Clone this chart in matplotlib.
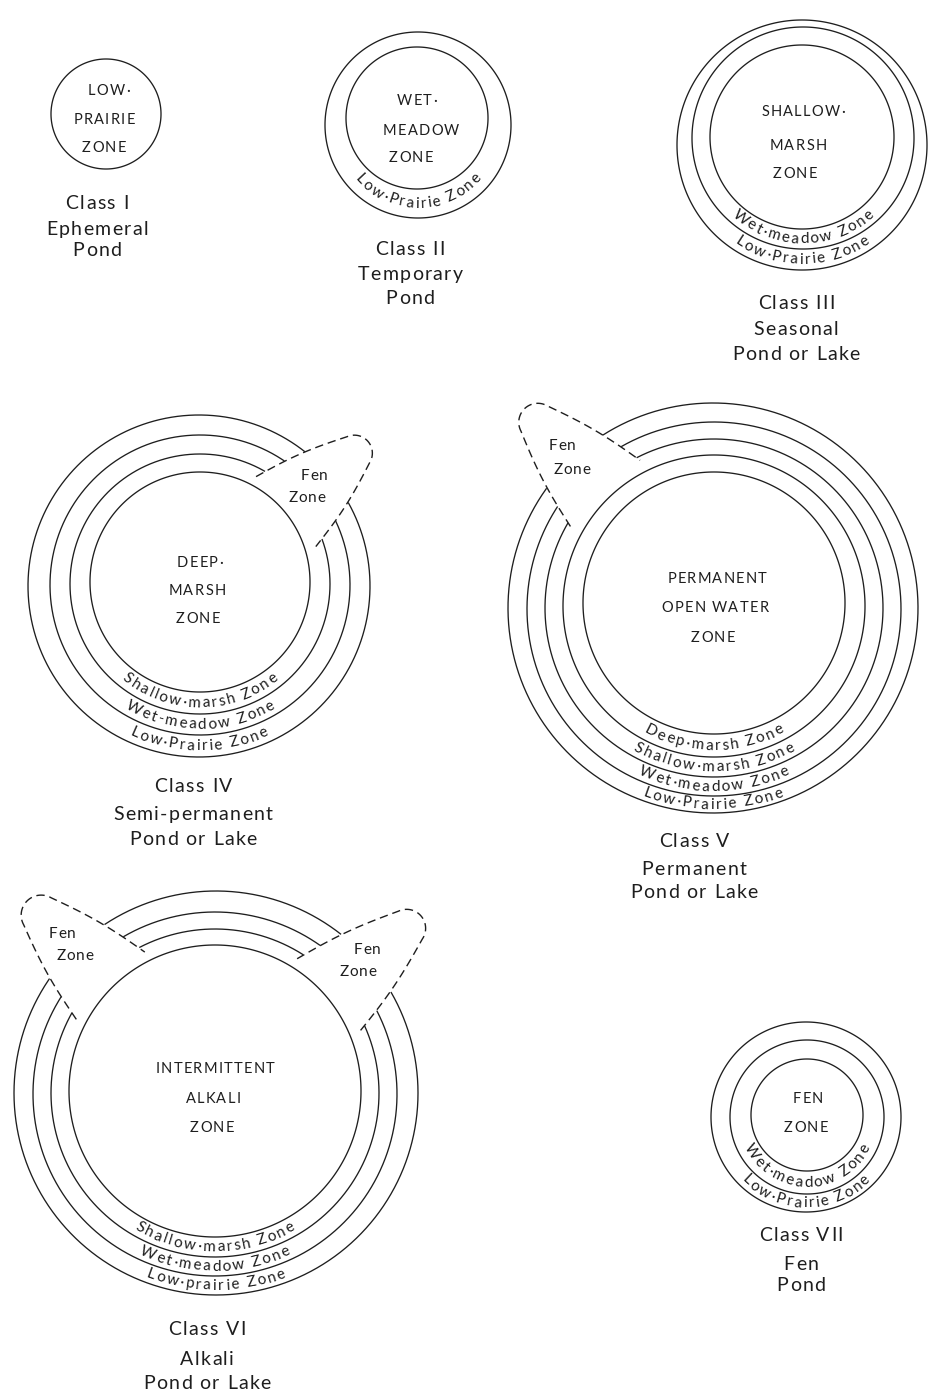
import numpy as np
import matplotlib
matplotlib.use("Agg")
import matplotlib.pyplot as plt
from matplotlib.path import Path
from matplotlib.textpath import TextToPath
from matplotlib.font_manager import FontProperties

W_PX, H_PX, DPI = 929, 1393, 100
FONT = "Lato"
INK = "#1e1e1e"

# ---------------- data ----------------
CLASS_NAMES = ["Class I", "Class II", "Class III", "Class IV", "Class V", "Class VI", "Class VII"]
CLASS_TYPES = [["Ephemeral", "Pond"], ["Temporary", "Pond"], ["Seasonal", "Pond or Lake"],
               ["Semi-permanent", "Pond or Lake"], ["Permanent", "Pond or Lake"],
               ["Alkali", "Pond or Lake"], ["Fen", "Pond"]]
CENTRAL_ZONES = [["LOW·", "PRAIRIE", "ZONE"], ["WET·", "MEADOW", "ZONE"],
                 ["SHALLOW·", "MARSH", "ZONE"], ["DEEP·", "MARSH", "ZONE"],
                 ["PERMANENT", "OPEN WATER", "ZONE"], ["INTERMITTENT", "ALKALI", "ZONE"],
                 ["FEN", "ZONE"]]
RING_ZONES = [[], ["Low·Prairie Zone"],
              ["Wet·meadow Zone", "Low·Prairie Zone"],
              ["Shallow·marsh Zone", "Wet-meadow Zone", "Low·Prairie Zone"],
              ["Deep·marsh Zone", "Shallow·marsh Zone", "Wet·meadow Zone", "Low·Prairie Zone"],
              ["Shallow·marsh Zone", "Wet·meadow Zone", "Low·prairie Zone"],
              ["Wet·meadow Zone", "Low·Prairie Zone"]]
FEN_LABEL = ["Fen", "Zone"]

# circles per class: (cx, cy, r), innermost first
CIRCLES = [
    [(106, 114, 55)],
    [(417, 118, 71), (418, 125, 93)],
    [(802, 137, 92), (803, 138, 111), (802, 145, 125)],
    [(200, 582, 110), (200, 584, 130), (200, 585, 150), (199, 586, 171)],
    [(714, 603, 131), (714, 606, 151), (714, 608, 169), (714, 609, 187), (713, 608, 205)],
    [(215, 1091, 146), (215, 1093, 164), (215, 1094, 182), (216, 1093, 202)],
    [(807, 1115, 56), (807, 1117, 77), (806, 1117, 95)],
]
POND_CENTERS = [(106, 114), (418, 122), (802, 140), (200, 585), (714, 608), (215, 1092), (807, 1116)]

# fen lobes: (class index, direction deg, base distance, length, half width, tip radius)
FEN_LOBES = [
    (3, 40.5, 113, 108, 46, 18),
    (4, 133.5, 158, 117, 48, 19),
    (5, 134.5, 149, 119, 48, 20),
    (5, 40.5, 149, 122, 48, 19),
]
FEN_TEXT_POS = [[(314, 475), (307, 497)], [(562, 445), (572, 469)],
                [(62, 933), (75, 955)], [(367, 949), (358, 971)]]

CENTRAL_X = [[109, 104, 104], [417, 421, 411], [803, 798, 795], [200, 197, 198],
             [717, 715, 713], [215, 213, 212], [808, 806]]
CENTRAL_Y = [[90, 119, 147], [100, 130, 157], [111, 145, 173], [562, 590, 618],
             [578, 607, 637], [1068, 1098, 1127], [1098, 1127]]
CAPTION_X = [97, 410, 796, 193, 694, 207, 801]
CAPTION_Y = [[202, 228, 249], [248, 273, 297], [302, 328, 353], [785, 813, 838],
             [840, 868, 891], [1328, 1358, 1382], [1234, 1263, 1284]]

# ---------------- figure ----------------
fig = plt.figure(figsize=(W_PX / DPI, H_PX / DPI), dpi=DPI)
ax = fig.add_axes([0, 0, 1, 1])
ax.set_xlim(0, W_PX)
ax.set_ylim(H_PX, 0)
ax.axis("off")

t2p = TextToPath()
_cache = {}


def adv(ch, fs):
    key = (ch, fs)
    if key not in _cache:
        fp = FontProperties(family=FONT, size=fs)
        a = t2p.get_text_width_height_descent("x" + ch + "x", fp, ismath=False)[0]
        b = t2p.get_text_width_height_descent("xx", fp, ismath=False)[0]
        _cache[key] = (a - b) * DPI / 72.0
    return _cache[key]


def spaced_text(x, y, s, fs, track):
    ws = [adv(c, fs) for c in s]
    total = sum(ws) + track * (len(s) - 1)
    pos = x - total / 2
    ybase = y + 0.36 * fs * DPI / 72.0
    for c, w in zip(s, ws):
        ax.text(pos + w / 2, ybase, c, fontsize=fs, family=FONT, color=INK,
                ha="center", va="baseline")
        pos += w + track


def arc_text(cx, cy, rb, s, fs, track, center_deg=90.0):
    ws = [adv(c, fs) for c in s]
    total = sum(ws) + track * (len(s) - 1)
    ang = center_deg + np.degrees(total / 2 / rb)
    for c, w in zip(s, ws):
        mid = ang - np.degrees(w / 2 / rb)
        t = np.radians(mid)
        ax.text(cx + rb * np.cos(t), cy + rb * np.sin(t), c, rotation=90 - mid,
                rotation_mode="anchor", ha="center", va="baseline",
                fontsize=fs, family=FONT, color=INK)
        ang -= np.degrees((w + track) / rb)


def lobe_pts(cx, cy, theta, d0, L, Wd, rho):
    th = np.radians(theta)
    u = np.array([np.cos(th), -np.sin(th)])
    v = np.array([-np.sin(th), -np.cos(th)])
    sc = L - rho
    D = np.hypot(sc, Wd)
    phi = np.arctan2(Wd, -sc)
    alpha = np.arccos(rho / D)
    a1 = phi - alpha
    # straight-ish edges with a slight outward bulge
    tx, tw = sc + rho * np.cos(a1), rho * np.sin(a1)
    f = np.linspace(0, 1, 30)
    nrm = np.array([tw - Wd, -tx])
    nrm = -nrm / np.hypot(*nrm)
    bulge = 3.0 * np.sin(np.pi * f)
    es = f * tx + bulge * nrm[0]
    ew = Wd + f * (tw - Wd) + bulge * nrm[1]
    arc = np.linspace(a1, -a1, 60)
    s = np.concatenate([es, sc + rho * np.cos(arc), es[::-1]])
    w = np.concatenate([ew, rho * np.sin(arc), -ew[::-1]])
    X = cx + (d0 + s) * u[0] + w * v[0]
    Y = cy + (d0 + s) * u[1] + w * v[1]
    return X, Y


# lobes
lobe_paths = {i: [] for i in range(len(CIRCLES))}
for k, (ci, th, d0, L, Wd, rho) in enumerate(FEN_LOBES):
    pcx, pcy = POND_CENTERS[ci]
    X, Y = lobe_pts(pcx, pcy, th, d0, L, Wd, rho)
    ax.plot(X, Y, color=INK, lw=1.0, ls=(0, (6, 3.5)), solid_capstyle="butt")
    poly = np.column_stack([np.append(X, X[0]), np.append(Y, Y[0])])
    lobe_paths[ci].append(Path(poly))
    for txt, (tx, ty) in zip(FEN_LABEL, FEN_TEXT_POS[k]):
        spaced_text(tx, ty, txt, 11, 0.6)

# circles
theta = np.linspace(0, 2 * np.pi, 1441)
for ci, circles in enumerate(CIRCLES):
    for (cx, cy, r) in circles:
        x = cx + r * np.cos(theta)
        y = cy + r * np.sin(theta)
        pts = np.column_stack([x, y])
        mask = np.zeros(len(x), dtype=bool)
        for p in lobe_paths[ci]:
            mask |= p.contains_points(pts)
        if mask.any():
            x = np.where(mask, np.nan, x)
            y = np.where(mask, np.nan, y)
            first = int(np.argmax(mask))
            x = np.roll(x[:-1], -first)
            y = np.roll(y[:-1], -first)
            ax.plot(x, y, color=INK, lw=0.95, solid_capstyle="butt")
        else:
            ax.fill(x[:-1], y[:-1], facecolor="none", edgecolor=INK, lw=0.95)

# ring labels
for ci, labels in enumerate(RING_ZONES):
    circles = CIRCLES[ci]
    for k, lab in enumerate(labels):
        cin = circles[k]
        cout = circles[k + 1]
        y_in = cin[1] + cin[2]
        y_out = cout[1] + cout[2]
        ymid = 0.5 * (y_in + y_out)
        rb = ymid + 4.4 - cout[1]
        arc_text(cout[0], cout[1], rb, lab, 11, 2.0)

# central zone names
for ci, lines in enumerate(CENTRAL_ZONES):
    for txt, x, y in zip(lines, CENTRAL_X[ci], CENTRAL_Y[ci]):
        spaced_text(x, y, txt, 10.5, 1.3)

# captions
for ci, name in enumerate(CLASS_NAMES):
    lines = [name] + CLASS_TYPES[ci]
    for txt, y in zip(lines, CAPTION_Y[ci]):
        spaced_text(CAPTION_X[ci], y, txt, 14, 1.4)

fig.savefig("out.png", dpi=DPI, facecolor="white")
